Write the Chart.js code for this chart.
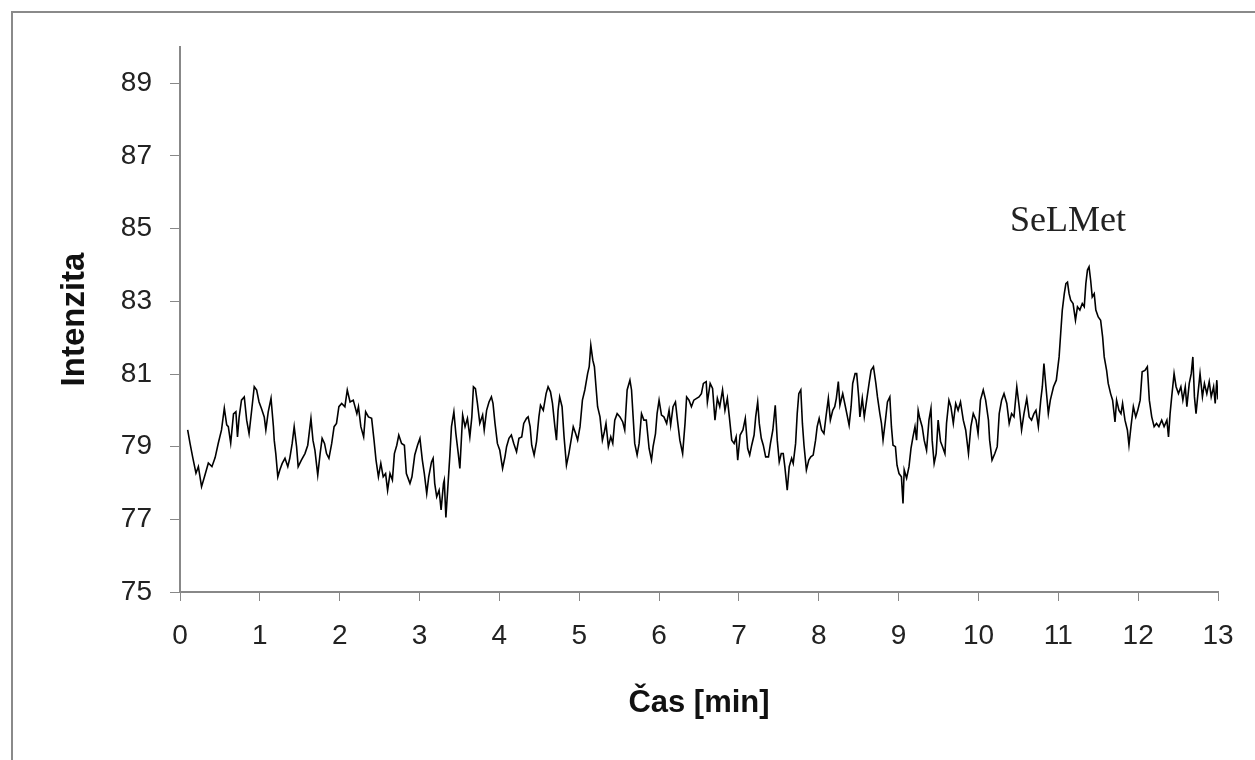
<!DOCTYPE html>
<html><head><meta charset="utf-8">
<script src="https://cdn.jsdelivr.net/npm/chart.js@4.4.0/dist/chart.umd.min.js"></script>
<style>
html,body{margin:0;padding:0;background:#fff;overflow:hidden;}
#wrap{position:relative;width:1255px;height:760px;overflow:hidden;}
#frame{position:absolute;left:11px;top:11px;width:2000px;height:2000px;border-left:2px solid #8a8a8a;border-top:2px solid #8a8a8a;}
canvas{position:absolute;left:0;top:0;}
</style></head><body>
<div id="wrap"><div id="frame"></div><canvas id="c" width="1255" height="760"></canvas></div>
<script>
const times = [
0.096,0.125,0.16,0.2,0.23,0.27,0.31,0.355,0.4,0.44,0.48,0.52,0.555,0.585,0.605,0.635,0.67,0.7,0.72,0.74,
0.77,0.805,0.835,0.865,0.9,0.93,0.96,0.99,1.02,1.055,1.075,1.105,1.14,1.17,1.18,1.2,1.225,1.25,1.28,1.315,
1.35,1.375,1.405,1.43,1.46,1.48,1.52,1.565,1.6,1.64,1.665,1.69,1.725,1.755,1.78,1.81,1.835,1.865,1.9,1.93,
1.96,1.99,2.025,2.065,2.095,2.13,2.17,2.215,2.235,2.265,2.3,2.325,2.36,2.4,2.43,2.455,2.485,2.515,2.545,2.575,
2.6,2.63,2.66,2.685,2.715,2.74,2.775,2.81,2.835,2.88,2.905,2.94,2.975,3.005,3.035,3.06,3.09,3.115,3.15,3.17,
3.19,3.215,3.245,3.27,3.3,3.31,3.33,3.355,3.38,3.4,3.43,3.455,3.485,3.505,3.54,3.57,3.6,3.63,3.655,3.675,
3.7,3.725,3.755,3.79,3.81,3.84,3.87,3.9,3.92,3.945,3.975,4.005,4.04,4.07,4.09,4.12,4.15,4.18,4.215,4.245,
4.28,4.305,4.34,4.36,4.385,4.405,4.435,4.465,4.495,4.515,4.55,4.585,4.61,4.64,4.665,4.695,4.715,4.735,4.755,4.785,
4.81,4.84,4.87,4.905,4.925,4.955,4.98,5.01,5.04,5.07,5.105,5.125,5.145,5.17,5.19,5.21,5.23,5.26,5.29,5.315,
5.335,5.365,5.395,5.42,5.445,5.475,5.51,5.545,5.57,5.6,5.635,5.655,5.675,5.695,5.725,5.75,5.78,5.81,5.84,5.875,
5.905,5.925,5.955,5.975,6.0,6.03,6.06,6.095,6.125,6.145,6.175,6.205,6.23,6.26,6.295,6.325,6.345,6.375,6.405,6.435,
6.47,6.5,6.53,6.555,6.59,6.605,6.64,6.67,6.7,6.73,6.76,6.795,6.825,6.855,6.88,6.91,6.94,6.965,6.985,7.015,
7.05,7.08,7.11,7.135,7.16,7.19,7.21,7.235,7.255,7.28,7.305,7.335,7.37,7.395,7.425,7.455,7.48,7.505,7.53,7.555,
7.575,7.605,7.63,7.66,7.68,7.71,7.73,7.75,7.775,7.795,7.815,7.845,7.875,7.9,7.93,7.96,7.98,8.005,8.035,8.065,
8.09,8.12,8.145,8.175,8.2,8.22,8.245,8.265,8.3,8.33,8.355,8.38,8.405,8.425,8.455,8.475,8.5,8.515,8.545,8.57,
8.6,8.63,8.655,8.685,8.715,8.735,8.765,8.785,8.805,8.835,8.86,8.89,8.91,8.93,8.96,8.98,9.005,9.035,9.055,9.07,
9.1,9.13,9.155,9.18,9.205,9.225,9.245,9.265,9.295,9.32,9.35,9.38,9.405,9.42,9.445,9.47,9.495,9.525,9.55,9.58,
9.6,9.63,9.655,9.685,9.715,9.745,9.775,9.81,9.84,9.875,9.905,9.935,9.97,9.995,10.025,10.06,10.09,10.125,10.14,10.17,
10.205,10.235,10.26,10.29,10.32,10.355,10.385,10.415,10.445,10.48,10.51,10.54,10.57,10.605,10.635,10.665,10.695,10.72,10.75,10.78,
10.8,10.82,10.845,10.875,10.9,10.94,10.975,11.01,11.03,11.05,11.075,11.095,11.115,11.135,11.155,11.185,11.215,11.24,11.27,11.3,
11.325,11.345,11.365,11.385,11.405,11.425,11.45,11.47,11.5,11.53,11.555,11.575,11.605,11.625,11.655,11.68,11.71,11.73,11.76,11.785,
11.805,11.835,11.865,11.885,11.91,11.94,11.97,11.995,12.025,12.05,12.085,12.115,12.14,12.17,12.2,12.23,12.26,12.295,12.325,12.36,
12.38,12.4,12.42,12.45,12.475,12.505,12.535,12.56,12.59,12.61,12.64,12.665,12.685,12.705,12.725,12.745,12.775,12.805,12.83,12.86,
12.89,12.915,12.945,12.965,12.985,13.0
];
const intensity = [
79.46,79.1,78.7,78.27,78.45,77.9,78.2,78.55,78.45,78.7,79.1,79.46,80.06,79.6,79.55,79.1,79.9,79.96,79.27,79.8,
80.28,80.37,79.73,79.36,80.05,80.65,80.56,80.23,80.05,79.82,79.46,79.96,80.33,79.55,79.18,78.8,78.17,78.36,78.54,78.68,
78.45,78.68,79.09,79.55,79.0,78.45,78.63,78.81,79.04,79.78,79.18,78.9,78.22,78.81,79.23,79.09,78.81,78.68,79.09,79.55,
79.64,80.1,80.19,80.1,80.56,80.23,80.28,79.91,80.1,79.55,79.27,79.96,79.82,79.78,79.18,78.63,78.17,78.54,78.17,78.26,
77.8,78.26,78.08,78.81,79.04,79.32,79.09,79.04,78.26,77.99,78.17,78.77,79.04,79.23,78.63,78.26,77.71,78.17,78.58,78.68,
77.99,77.62,77.8,77.26,77.99,78.08,77.05,77.9,78.77,79.55,79.96,79.36,78.81,78.4,79.87,79.55,79.78,79.27,79.82,80.65,
80.6,80.19,79.64,79.87,79.46,80.0,80.23,80.37,80.19,79.64,79.09,78.9,78.4,78.72,79.0,79.23,79.32,79.09,78.86,79.23,
79.27,79.64,79.78,79.82,79.55,79.04,78.77,79.14,79.82,80.14,80.0,80.46,80.65,80.51,80.19,79.55,79.18,80.0,80.37,80.1,
79.27,78.49,78.81,79.27,79.55,79.36,79.18,79.55,80.28,80.56,81.01,81.2,81.79,81.38,81.2,80.65,80.1,79.82,79.18,79.41,
79.64,79.0,79.27,79.09,79.73,79.91,79.82,79.68,79.46,80.56,80.83,80.56,79.82,79.09,78.77,79.09,79.91,79.73,79.73,78.95,
78.63,79.0,79.36,79.91,80.28,79.87,79.82,79.64,80.0,79.59,80.1,80.23,79.73,79.18,78.81,79.64,80.37,80.28,80.1,80.28,
80.33,80.37,80.46,80.74,80.79,80.23,80.74,80.6,79.73,80.33,80.1,80.56,80.0,80.33,79.82,79.18,79.09,79.27,78.63,79.32,
79.46,79.78,78.95,78.77,79.04,79.32,79.82,80.23,79.64,79.23,79.04,78.72,78.72,79.09,79.46,80.14,79.18,78.58,78.81,78.81,
78.45,77.8,78.45,78.68,78.54,79.09,79.91,80.46,80.56,79.64,79.04,78.36,78.63,78.72,78.77,79.18,79.55,79.78,79.46,79.36,
79.82,80.33,79.73,80.0,80.1,80.33,80.79,80.14,80.46,80.14,79.87,79.59,80.1,80.74,81.01,81.01,80.37,79.82,80.33,79.82,
80.28,80.74,81.1,81.2,80.74,80.37,79.91,79.64,79.18,79.73,80.23,80.37,79.55,79.04,79.0,78.49,78.26,78.17,77.44,78.36,
78.13,78.45,78.95,79.27,79.55,79.18,80.0,79.78,79.55,79.18,78.9,79.73,80.05,79.18,78.54,78.81,79.73,79.14,79.0,78.81,
79.64,80.28,80.1,79.64,80.19,80.0,80.23,79.73,79.46,78.81,79.55,79.91,79.73,79.36,80.28,80.56,80.28,79.73,79.18,78.63,
78.81,79.0,79.91,80.28,80.46,80.19,79.64,79.91,79.82,80.65,80.1,79.46,79.91,80.33,79.82,79.73,79.91,80.0,79.55,80.28,
80.65,81.29,80.65,79.91,80.28,80.65,80.83,81.47,82.12,82.76,83.21,83.49,83.53,83.21,83.03,82.94,82.48,82.85,82.76,82.94,
82.85,83.49,83.86,83.95,83.58,83.12,83.21,82.76,82.57,82.48,82.02,81.47,81.1,80.74,80.46,80.28,79.68,80.28,80.0,79.91,
80.19,79.73,79.46,79.04,79.55,80.1,79.82,80.0,80.28,81.06,81.1,81.2,80.28,79.82,79.55,79.64,79.55,79.73,79.55,79.73,
79.27,79.91,80.37,81.01,80.65,80.46,80.65,80.28,80.65,80.1,80.74,81.01,81.47,80.37,79.91,80.37,81.01,80.37,80.74,80.46,
80.79,80.37,80.65,80.19,80.83,80.3
];
const xTicks = [0,1,2,3,4,5,6,7,8,9,10,11,12,13];
const yTicks = [75,77,79,81,83,85,87,89];
const peakLabel = { text: 'SeLMet', x: 11.12, y: 85.2 };

const peakLabelPlugin = {
  id: 'peakLabel',
  afterDatasetsDraw(chart) {
    const { ctx, scales: { x, y } } = chart;
    ctx.save();
    ctx.font = '36px "Liberation Serif"';
    ctx.fillStyle = '#222';
    ctx.textAlign = 'center';
    ctx.textBaseline = 'middle';
    ctx.fillText(peakLabel.text, x.getPixelForValue(peakLabel.x), y.getPixelForValue(peakLabel.y));
    ctx.restore();
  }
};

new Chart(document.getElementById('c'), {
  type: 'line',
  data: {
    datasets: [{
      data: times.map((t, i) => ({ x: t, y: intensity[i] })),
      borderColor: '#000',
      borderWidth: 1.6,
      pointRadius: 0,
      tension: 0,
      fill: false
    }]
  },
  options: {
    responsive: false,
    animation: false,
    devicePixelRatio: 1,
    layout: { padding: { left: 0, right: 37, top: 47, bottom: 0 } },
    plugins: { legend: { display: false }, tooltip: { enabled: false } },
    scales: {
      x: {
        type: 'linear', min: 0, max: 13,
        afterBuildTicks: s => { s.ticks = xTicks.map(v => ({ value: v })); },
        afterFit: s => { s.height = 168; },
        grid: { drawOnChartArea: false, drawTicks: true, tickLength: 9, color: '#888', lineWidth: 1 },
        border: { display: true, color: '#888', width: 2 },
        ticks: { font: { family: 'Liberation Sans', size: 28 }, color: '#222', padding: 18, maxRotation: 0, autoSkip: false },
        title: { display: true, text: 'Čas [min]', color: '#111', font: { family: 'Liberation Sans', size: 31, weight: 'bold' }, padding: { top: 0, bottom: 38 } }
      },
      y: {
        type: 'linear', min: 75, max: 90,
        afterBuildTicks: s => { s.ticks = yTicks.map(v => ({ value: v })); },
        afterFit: s => { s.width = 180; },
        grid: { drawOnChartArea: false, drawTicks: true, tickLength: 10, color: '#888', lineWidth: 1 },
        border: { display: true, color: '#888', width: 2 },
        ticks: { font: { family: 'Liberation Sans', size: 28 }, color: '#222', padding: 18, autoSkip: false },
        title: { display: true, text: 'Intenzita', color: '#111', font: { family: 'Liberation Sans', size: 33, weight: 'bold' }, padding: { top: 55, bottom: 0 } }
      }
    }
  },
  plugins: [peakLabelPlugin]
});
</script>
</body></html>
